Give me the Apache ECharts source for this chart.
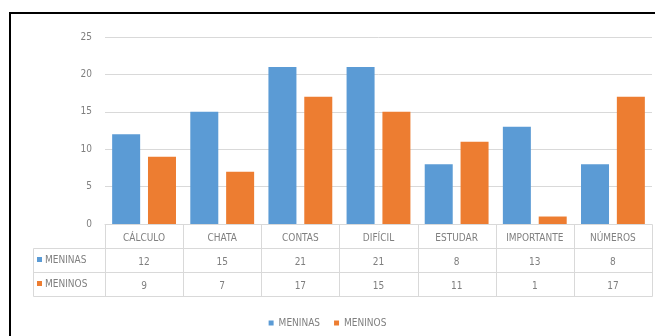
<!DOCTYPE html>
<html>
<head>
<meta charset="utf-8">
<script src="https://cdn.jsdelivr.net/npm/echarts@6/dist/echarts.min.js"></script>
<style>
  html, body { margin: 0; padding: 0; background: #fff; }
  #chart { width: 655px; height: 336px; }
</style>
</head>
<body>
<div id="chart"></div>
<script>
// Word categories and counts per group
const categories = ['CÁLCULO', 'CHATA', 'CONTAS', 'DIFÍCIL', 'ESTUDAR', 'IMPORTANTE', 'NÚMEROS'];
const meninas = [12, 15, 21, 21, 8, 13, 8];
const meninos = [9, 7, 17, 15, 11, 1, 17];
const seriesNames = ['MENINAS', 'MENINOS'];
const yTicks = [0, 5, 10, 15, 20, 25];

const BLUE = '#5B9BD5';
const ORANGE = '#ED7D31';
const TEXT = '#7F7F7F';
const LINE = '#D9D9D9';
const FONT = '"Liberation Sans Narrow", "DejaVu Sans Condensed", "Liberation Sans", sans-serif';

const GRID = { left: 105, right: 3, top: 37, bottom: 112 };
const ROW_H = 24;

const chart = echarts.init(document.getElementById('chart'), null, { renderer: 'canvas' });

const option = {
  animation: false,
  backgroundColor: '#fff',
  textStyle: { fontFamily: FONT },
  grid: GRID,
  legend: {
    bottom: 3,
    left: 'center',
    itemWidth: 5,
    itemHeight: 5,
    itemGap: 14,
    icon: 'rect',
    textStyle: { color: TEXT, fontSize: 10, fontFamily: FONT },
    data: seriesNames
  },
  xAxis: {
    type: 'category',
    data: categories,
    axisLine: { show: true, lineStyle: { color: LINE } },
    axisTick: { show: false },
    axisLabel: {
      interval: 0,
      margin: 2,
      color: TEXT,
      fontSize: 10,
      fontFamily: FONT,
      lineHeight: ROW_H,
      formatter: function (value, idx) {
        return value + '\n' + meninas[idx] + '\n' + meninos[idx];
      }
    }
  },
  yAxis: {
    type: 'value',
    min: yTicks[0],
    max: yTicks[yTicks.length - 1],
    interval: 5,
    axisLine: { show: false },
    axisTick: { show: false },
    axisLabel: { color: TEXT, fontSize: 10, fontFamily: FONT, margin: 13 },
    splitLine: { lineStyle: { color: LINE, width: 1 } }
  },
  series: [
    { name: seriesNames[0], type: 'bar', data: meninas, barWidth: 28, barGap: '28%', itemStyle: { color: BLUE } },
    { name: seriesNames[1], type: 'bar', data: meninos, barWidth: 28, barGap: '28%', itemStyle: { color: ORANGE } }
  ]
};

chart.setOption(option);

// Data table grid drawn under the category axis, aligned with the axis scale
function buildTable() {
  const x0 = chart.convertToPixel({ xAxisIndex: 0 }, categories[0]);
  const x1 = chart.convertToPixel({ xAxisIndex: 0 }, categories[1]);
  const step = x1 - x0;
  const left = x0 - step / 2;
  const right = left + step * categories.length;
  const yBase = chart.convertToPixel({ yAxisIndex: 0 }, 0);
  const rowsTop = yBase + ROW_H;
  const bottom = yBase + ROW_H * 3;
  const tableLeft = 33;
  const els = [];
  const line = (xa, ya, xb, yb) => ({
    type: 'line',
    shape: { x1: Math.round(xa) + 0.5, y1: Math.round(ya) + 0.5, x2: Math.round(xb) + 0.5, y2: Math.round(yb) + 0.5 },
    style: { stroke: LINE, lineWidth: 1 },
    silent: true
  });
  for (let i = 0; i <= categories.length; i++) {
    const x = left + step * i;
    els.push(line(x, yBase, x, bottom));
  }
  els.push(line(tableLeft, rowsTop, tableLeft, bottom));
  for (let r = 1; r <= 3; r++) {
    const y = yBase + ROW_H * r;
    els.push(line(tableLeft, y, right, y));
  }
  const colors = [BLUE, ORANGE];
  seriesNames.forEach((name, r) => {
    const cy = rowsTop + ROW_H * r + ROW_H / 2;
    els.push({
      type: 'rect',
      shape: { x: tableLeft + 4, y: Math.round(cy) - 3, width: 5, height: 5 },
      style: { fill: colors[r] },
      silent: true
    });
    els.push({
      type: 'text',
      x: tableLeft + 12,
      y: cy,
      style: { text: name, fill: TEXT, font: '10px ' + FONT, verticalAlign: 'middle', align: 'left' },
      silent: true
    });
  });
  // outer chart frame
  els.push({
    type: 'rect',
    shape: { x: 10, y: 13, width: 660, height: 340 },
    style: { fill: 'none', stroke: '#000', lineWidth: 2 },
    silent: true
  });
  chart.setOption({ graphic: els });
}
buildTable();
</script>
</body>
</html>
